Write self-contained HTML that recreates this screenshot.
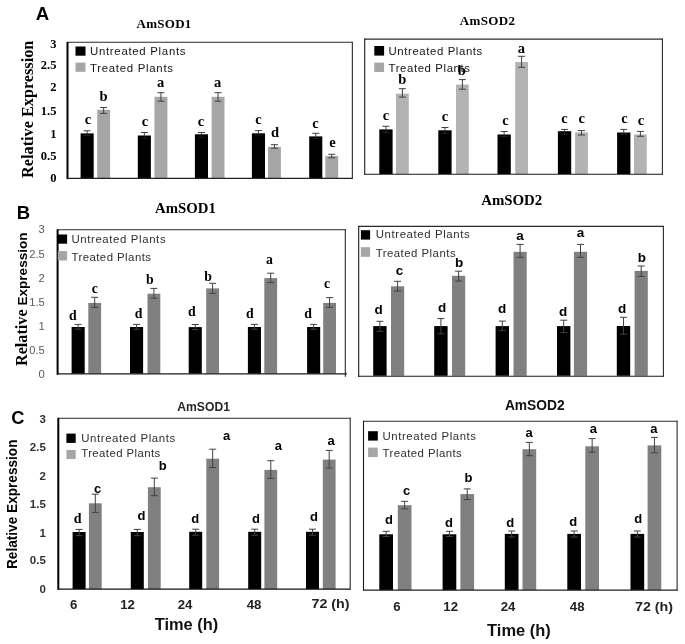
<!DOCTYPE html>
<html><head><meta charset="utf-8"><title>AmSOD expression</title>
<style>html,body{margin:0;padding:0;background:#fff;}svg{display:block;filter:grayscale(1) blur(0.3px);}</style>
</head><body>
<svg width="685" height="644" viewBox="0 0 685 644">
<rect x="0" y="0" width="685" height="644" fill="#fff"/>
<rect x="80.60" y="133.40" width="13.10" height="45.10" fill="#000"/>
<rect x="137.80" y="135.50" width="13.10" height="43.00" fill="#000"/>
<rect x="194.90" y="134.30" width="13.10" height="44.20" fill="#000"/>
<rect x="251.90" y="133.30" width="13.10" height="45.20" fill="#000"/>
<rect x="309.20" y="136.40" width="13.10" height="42.10" fill="#000"/>
<rect x="97.20" y="109.80" width="12.90" height="68.70" fill="#a6a6a6"/>
<rect x="154.50" y="96.80" width="12.90" height="81.70" fill="#a6a6a6"/>
<rect x="211.60" y="96.80" width="12.90" height="81.70" fill="#a6a6a6"/>
<rect x="268.00" y="146.90" width="12.90" height="31.60" fill="#a6a6a6"/>
<rect x="325.30" y="156.00" width="12.90" height="22.50" fill="#a6a6a6"/>
<line x1="67.00" y1="42.30" x2="352.40" y2="42.30" stroke="#2a2a2a" stroke-width="1.1"/>
<line x1="352.35" y1="41.80" x2="352.35" y2="178.80" stroke="#2a2a2a" stroke-width="1.1"/>
<line x1="67.50" y1="42.00" x2="67.50" y2="179.20" stroke="#000" stroke-width="2"/>
<line x1="67.00" y1="178.40" x2="352.80" y2="178.40" stroke="#222" stroke-width="1.4"/>
<line x1="87.15" y1="130.80" x2="87.15" y2="133.40" stroke="#404040" stroke-width="1.0"/>
<line x1="87.15" y1="133.40" x2="87.15" y2="135.50" stroke="#1c1c1c" stroke-width="1.0"/>
<line x1="83.65" y1="130.80" x2="90.65" y2="130.80" stroke="#404040" stroke-width="1.0"/>
<line x1="83.65" y1="135.50" x2="90.65" y2="135.50" stroke="#1c1c1c" stroke-width="1.0"/>
<line x1="144.35" y1="132.50" x2="144.35" y2="135.50" stroke="#404040" stroke-width="1.0"/>
<line x1="144.35" y1="135.50" x2="144.35" y2="138.40" stroke="#1c1c1c" stroke-width="1.0"/>
<line x1="140.85" y1="132.50" x2="147.85" y2="132.50" stroke="#404040" stroke-width="1.0"/>
<line x1="140.85" y1="138.40" x2="147.85" y2="138.40" stroke="#1c1c1c" stroke-width="1.0"/>
<line x1="201.45" y1="132.50" x2="201.45" y2="134.30" stroke="#404040" stroke-width="1.0"/>
<line x1="201.45" y1="134.30" x2="201.45" y2="137.40" stroke="#1c1c1c" stroke-width="1.0"/>
<line x1="197.95" y1="132.50" x2="204.95" y2="132.50" stroke="#404040" stroke-width="1.0"/>
<line x1="197.95" y1="137.40" x2="204.95" y2="137.40" stroke="#1c1c1c" stroke-width="1.0"/>
<line x1="258.45" y1="130.60" x2="258.45" y2="133.30" stroke="#404040" stroke-width="1.0"/>
<line x1="258.45" y1="133.30" x2="258.45" y2="135.00" stroke="#1c1c1c" stroke-width="1.0"/>
<line x1="254.95" y1="130.60" x2="261.95" y2="130.60" stroke="#404040" stroke-width="1.0"/>
<line x1="254.95" y1="135.00" x2="261.95" y2="135.00" stroke="#1c1c1c" stroke-width="1.0"/>
<line x1="315.75" y1="133.30" x2="315.75" y2="136.40" stroke="#404040" stroke-width="1.0"/>
<line x1="315.75" y1="136.40" x2="315.75" y2="138.50" stroke="#1c1c1c" stroke-width="1.0"/>
<line x1="312.25" y1="133.30" x2="319.25" y2="133.30" stroke="#404040" stroke-width="1.0"/>
<line x1="312.25" y1="138.50" x2="319.25" y2="138.50" stroke="#1c1c1c" stroke-width="1.0"/>
<line x1="103.65" y1="107.50" x2="103.65" y2="113.40" stroke="#404040" stroke-width="1.0"/>
<line x1="100.15" y1="107.50" x2="107.15" y2="107.50" stroke="#404040" stroke-width="1.0"/>
<line x1="100.15" y1="113.40" x2="107.15" y2="113.40" stroke="#404040" stroke-width="1.0"/>
<line x1="160.95" y1="92.70" x2="160.95" y2="101.20" stroke="#404040" stroke-width="1.0"/>
<line x1="157.45" y1="92.70" x2="164.45" y2="92.70" stroke="#404040" stroke-width="1.0"/>
<line x1="157.45" y1="101.20" x2="164.45" y2="101.20" stroke="#404040" stroke-width="1.0"/>
<line x1="218.05" y1="92.70" x2="218.05" y2="101.20" stroke="#404040" stroke-width="1.0"/>
<line x1="214.55" y1="92.70" x2="221.55" y2="92.70" stroke="#404040" stroke-width="1.0"/>
<line x1="214.55" y1="101.20" x2="221.55" y2="101.20" stroke="#404040" stroke-width="1.0"/>
<line x1="274.45" y1="144.70" x2="274.45" y2="148.20" stroke="#404040" stroke-width="1.0"/>
<line x1="270.95" y1="144.70" x2="277.95" y2="144.70" stroke="#404040" stroke-width="1.0"/>
<line x1="270.95" y1="148.20" x2="277.95" y2="148.20" stroke="#404040" stroke-width="1.0"/>
<line x1="331.75" y1="154.30" x2="331.75" y2="157.80" stroke="#404040" stroke-width="1.0"/>
<line x1="328.25" y1="154.30" x2="335.25" y2="154.30" stroke="#404040" stroke-width="1.0"/>
<line x1="328.25" y1="157.80" x2="335.25" y2="157.80" stroke="#404040" stroke-width="1.0"/>
<text x="87.90" y="123.80" font-family="Liberation Serif" font-size="14.5" font-weight="bold" fill="#000" text-anchor="middle" >c</text>
<text x="103.50" y="101.30" font-family="Liberation Serif" font-size="14.5" font-weight="bold" fill="#000" text-anchor="middle" >b</text>
<text x="144.90" y="126.00" font-family="Liberation Serif" font-size="14.5" font-weight="bold" fill="#000" text-anchor="middle" >c</text>
<text x="160.50" y="87.30" font-family="Liberation Serif" font-size="14.5" font-weight="bold" fill="#000" text-anchor="middle" >a</text>
<text x="201.00" y="126.00" font-family="Liberation Serif" font-size="14.5" font-weight="bold" fill="#000" text-anchor="middle" >c</text>
<text x="217.60" y="87.30" font-family="Liberation Serif" font-size="14.5" font-weight="bold" fill="#000" text-anchor="middle" >a</text>
<text x="258.40" y="123.60" font-family="Liberation Serif" font-size="14.5" font-weight="bold" fill="#000" text-anchor="middle" >c</text>
<text x="275.00" y="137.30" font-family="Liberation Serif" font-size="14.5" font-weight="bold" fill="#000" text-anchor="middle" >d</text>
<text x="315.50" y="127.70" font-family="Liberation Serif" font-size="14.5" font-weight="bold" fill="#000" text-anchor="middle" >c</text>
<text x="332.50" y="146.90" font-family="Liberation Serif" font-size="14.5" font-weight="bold" fill="#000" text-anchor="middle" >e</text>
<text x="136.50" y="28.40" font-family="Liberation Serif" font-size="13.0" font-weight="bold" fill="#000" text-anchor="start" textLength="54.80" lengthAdjust="spacing" >AmSOD1</text>
<text x="56.40" y="48.00" font-family="Liberation Serif" font-size="12.5" font-weight="bold" fill="#000" text-anchor="end" >3</text>
<text x="56.40" y="69.00" font-family="Liberation Serif" font-size="12.5" font-weight="bold" fill="#000" text-anchor="end" >2.5</text>
<text x="56.40" y="91.20" font-family="Liberation Serif" font-size="12.5" font-weight="bold" fill="#000" text-anchor="end" >2</text>
<text x="56.40" y="115.10" font-family="Liberation Serif" font-size="12.5" font-weight="bold" fill="#000" text-anchor="end" >1.5</text>
<text x="56.40" y="137.50" font-family="Liberation Serif" font-size="12.5" font-weight="bold" fill="#000" text-anchor="end" >1</text>
<text x="56.40" y="160.20" font-family="Liberation Serif" font-size="12.5" font-weight="bold" fill="#000" text-anchor="end" >0.5</text>
<text x="56.40" y="181.80" font-family="Liberation Serif" font-size="12.5" font-weight="bold" fill="#000" text-anchor="end" >0</text>
<text transform="translate(32.70,177.90) rotate(-90)" x="0" y="0" font-family="Liberation Serif" font-size="16.2" font-weight="bold" fill="#000" text-anchor="start" textLength="137.20" lengthAdjust="spacingAndGlyphs" >Relative Expression</text>
<rect x="75.50" y="46.50" width="10.00" height="9.20" fill="#000"/>
<rect x="75.50" y="62.60" width="10.00" height="9.20" fill="#a6a6a6"/>
<text x="90.00" y="54.70" font-family="Liberation Sans" font-size="11.4" font-weight="normal" fill="#141414" text-anchor="start" textLength="95.50" lengthAdjust="spacing" >Untreated Plants</text>
<text x="90.00" y="71.50" font-family="Liberation Sans" font-size="11.4" font-weight="normal" fill="#141414" text-anchor="start" textLength="83.00" lengthAdjust="spacing" >Treated Plants</text>
<text x="35.80" y="20.00" font-family="Liberation Sans" font-size="18.6" font-weight="bold" fill="#000" text-anchor="start" >A</text>
<rect x="379.30" y="129.40" width="13.30" height="44.60" fill="#000"/>
<rect x="438.30" y="130.30" width="13.30" height="43.70" fill="#000"/>
<rect x="497.50" y="134.50" width="13.30" height="39.50" fill="#000"/>
<rect x="557.90" y="131.20" width="13.30" height="42.80" fill="#000"/>
<rect x="617.10" y="132.50" width="13.30" height="41.50" fill="#000"/>
<rect x="396.00" y="93.70" width="12.80" height="80.30" fill="#b3b3b3"/>
<rect x="456.00" y="84.60" width="12.80" height="89.40" fill="#b3b3b3"/>
<rect x="515.20" y="62.00" width="12.80" height="112.00" fill="#b3b3b3"/>
<rect x="575.10" y="132.40" width="12.80" height="41.60" fill="#b3b3b3"/>
<rect x="634.00" y="134.50" width="12.80" height="39.50" fill="#b3b3b3"/>
<line x1="364.20" y1="39.10" x2="662.90" y2="39.10" stroke="#2a2a2a" stroke-width="1.1"/>
<line x1="662.40" y1="38.60" x2="662.40" y2="174.70" stroke="#2a2a2a" stroke-width="1.1"/>
<line x1="364.70" y1="38.60" x2="364.70" y2="174.70" stroke="#1a1a1a" stroke-width="1.1"/>
<line x1="364.20" y1="174.20" x2="662.90" y2="174.20" stroke="#1a1a1a" stroke-width="1.1"/>
<line x1="385.95" y1="126.30" x2="385.95" y2="129.40" stroke="#404040" stroke-width="1.0"/>
<line x1="385.95" y1="129.40" x2="385.95" y2="132.40" stroke="#262626" stroke-width="1.0"/>
<line x1="382.45" y1="126.30" x2="389.45" y2="126.30" stroke="#404040" stroke-width="1.0"/>
<line x1="382.45" y1="132.40" x2="389.45" y2="132.40" stroke="#262626" stroke-width="1.0"/>
<line x1="444.95" y1="127.50" x2="444.95" y2="130.30" stroke="#404040" stroke-width="1.0"/>
<line x1="444.95" y1="130.30" x2="444.95" y2="133.30" stroke="#262626" stroke-width="1.0"/>
<line x1="441.45" y1="127.50" x2="448.45" y2="127.50" stroke="#404040" stroke-width="1.0"/>
<line x1="441.45" y1="133.30" x2="448.45" y2="133.30" stroke="#262626" stroke-width="1.0"/>
<line x1="504.15" y1="131.50" x2="504.15" y2="134.50" stroke="#404040" stroke-width="1.0"/>
<line x1="504.15" y1="134.50" x2="504.15" y2="136.40" stroke="#262626" stroke-width="1.0"/>
<line x1="500.65" y1="131.50" x2="507.65" y2="131.50" stroke="#404040" stroke-width="1.0"/>
<line x1="500.65" y1="136.40" x2="507.65" y2="136.40" stroke="#262626" stroke-width="1.0"/>
<line x1="564.55" y1="129.40" x2="564.55" y2="131.20" stroke="#404040" stroke-width="1.0"/>
<line x1="564.55" y1="131.20" x2="564.55" y2="134.20" stroke="#262626" stroke-width="1.0"/>
<line x1="561.05" y1="129.40" x2="568.05" y2="129.40" stroke="#404040" stroke-width="1.0"/>
<line x1="561.05" y1="134.20" x2="568.05" y2="134.20" stroke="#262626" stroke-width="1.0"/>
<line x1="623.75" y1="129.40" x2="623.75" y2="132.50" stroke="#404040" stroke-width="1.0"/>
<line x1="623.75" y1="132.50" x2="623.75" y2="134.00" stroke="#262626" stroke-width="1.0"/>
<line x1="620.25" y1="129.40" x2="627.25" y2="129.40" stroke="#404040" stroke-width="1.0"/>
<line x1="620.25" y1="134.00" x2="627.25" y2="134.00" stroke="#262626" stroke-width="1.0"/>
<line x1="402.40" y1="88.70" x2="402.40" y2="97.10" stroke="#404040" stroke-width="1.0"/>
<line x1="398.90" y1="88.70" x2="405.90" y2="88.70" stroke="#404040" stroke-width="1.0"/>
<line x1="398.90" y1="97.10" x2="405.90" y2="97.10" stroke="#404040" stroke-width="1.0"/>
<line x1="462.40" y1="79.60" x2="462.40" y2="89.20" stroke="#404040" stroke-width="1.0"/>
<line x1="458.90" y1="79.60" x2="465.90" y2="79.60" stroke="#404040" stroke-width="1.0"/>
<line x1="458.90" y1="89.20" x2="465.90" y2="89.20" stroke="#404040" stroke-width="1.0"/>
<line x1="521.60" y1="56.30" x2="521.60" y2="67.30" stroke="#404040" stroke-width="1.0"/>
<line x1="518.10" y1="56.30" x2="525.10" y2="56.30" stroke="#404040" stroke-width="1.0"/>
<line x1="518.10" y1="67.30" x2="525.10" y2="67.30" stroke="#404040" stroke-width="1.0"/>
<line x1="581.50" y1="130.60" x2="581.50" y2="135.00" stroke="#404040" stroke-width="1.0"/>
<line x1="578.00" y1="130.60" x2="585.00" y2="130.60" stroke="#404040" stroke-width="1.0"/>
<line x1="578.00" y1="135.00" x2="585.00" y2="135.00" stroke="#404040" stroke-width="1.0"/>
<line x1="640.40" y1="131.40" x2="640.40" y2="136.30" stroke="#404040" stroke-width="1.0"/>
<line x1="636.90" y1="131.40" x2="643.90" y2="131.40" stroke="#404040" stroke-width="1.0"/>
<line x1="636.90" y1="136.30" x2="643.90" y2="136.30" stroke="#404040" stroke-width="1.0"/>
<text x="386.00" y="120.10" font-family="Liberation Serif" font-size="14.5" font-weight="bold" fill="#000" text-anchor="middle" >c</text>
<text x="402.20" y="84.30" font-family="Liberation Serif" font-size="14.5" font-weight="bold" fill="#000" text-anchor="middle" >b</text>
<text x="445.00" y="121.40" font-family="Liberation Serif" font-size="14.5" font-weight="bold" fill="#000" text-anchor="middle" >c</text>
<text x="461.90" y="74.70" font-family="Liberation Serif" font-size="14.5" font-weight="bold" fill="#000" text-anchor="middle" >b</text>
<text x="505.40" y="124.90" font-family="Liberation Serif" font-size="14.5" font-weight="bold" fill="#000" text-anchor="middle" >c</text>
<text x="521.40" y="52.80" font-family="Liberation Serif" font-size="14.5" font-weight="bold" fill="#000" text-anchor="middle" >a</text>
<text x="564.40" y="122.80" font-family="Liberation Serif" font-size="14.5" font-weight="bold" fill="#000" text-anchor="middle" >c</text>
<text x="581.60" y="123.10" font-family="Liberation Serif" font-size="14.5" font-weight="bold" fill="#000" text-anchor="middle" >c</text>
<text x="624.50" y="123.00" font-family="Liberation Serif" font-size="14.5" font-weight="bold" fill="#000" text-anchor="middle" >c</text>
<text x="640.90" y="125.00" font-family="Liberation Serif" font-size="14.5" font-weight="bold" fill="#000" text-anchor="middle" >c</text>
<text x="459.80" y="25.00" font-family="Liberation Serif" font-size="13.0" font-weight="bold" fill="#000" text-anchor="start" textLength="55.20" lengthAdjust="spacing" >AmSOD2</text>
<rect x="374.30" y="46.00" width="9.80" height="9.60" fill="#000"/>
<rect x="374.30" y="62.60" width="9.80" height="9.40" fill="#a6a6a6"/>
<text x="388.50" y="54.80" font-family="Liberation Sans" font-size="11.4" font-weight="normal" fill="#141414" text-anchor="start" textLength="93.80" lengthAdjust="spacing" >Untreated Plants</text>
<text x="388.50" y="71.90" font-family="Liberation Sans" font-size="11.4" font-weight="normal" fill="#141414" text-anchor="start" textLength="81.50" lengthAdjust="spacing" >Treated Plants</text>
<rect x="71.60" y="327.00" width="13.10" height="46.60" fill="#000"/>
<rect x="130.00" y="327.00" width="13.10" height="46.60" fill="#000"/>
<rect x="188.70" y="327.10" width="13.10" height="46.50" fill="#000"/>
<rect x="247.90" y="327.00" width="13.10" height="46.60" fill="#000"/>
<rect x="307.10" y="327.00" width="13.10" height="46.60" fill="#000"/>
<rect x="88.30" y="302.90" width="12.80" height="70.70" fill="#808080"/>
<rect x="147.50" y="293.70" width="12.80" height="79.90" fill="#808080"/>
<rect x="206.20" y="288.40" width="12.80" height="85.20" fill="#808080"/>
<rect x="264.30" y="278.10" width="12.80" height="95.50" fill="#808080"/>
<rect x="323.20" y="302.90" width="12.80" height="70.70" fill="#808080"/>
<line x1="57.50" y1="229.80" x2="345.80" y2="229.80" stroke="#2a2a2a" stroke-width="1.1"/>
<line x1="345.30" y1="229.30" x2="345.30" y2="376.70" stroke="#2a2a2a" stroke-width="1.1"/>
<line x1="57.60" y1="229.30" x2="57.60" y2="374.80" stroke="#000" stroke-width="2"/>
<line x1="57.00" y1="373.80" x2="347.00" y2="373.80" stroke="#1a1a1a" stroke-width="1.3"/>
<line x1="78.15" y1="324.40" x2="78.15" y2="329.20" stroke="#404040" stroke-width="1.0"/>
<line x1="74.65" y1="324.40" x2="81.65" y2="324.40" stroke="#404040" stroke-width="1.0"/>
<line x1="74.65" y1="329.20" x2="81.65" y2="329.20" stroke="#404040" stroke-width="1.0"/>
<line x1="136.55" y1="324.40" x2="136.55" y2="329.20" stroke="#404040" stroke-width="1.0"/>
<line x1="133.05" y1="324.40" x2="140.05" y2="324.40" stroke="#404040" stroke-width="1.0"/>
<line x1="133.05" y1="329.20" x2="140.05" y2="329.20" stroke="#404040" stroke-width="1.0"/>
<line x1="195.25" y1="324.50" x2="195.25" y2="329.60" stroke="#404040" stroke-width="1.0"/>
<line x1="191.75" y1="324.50" x2="198.75" y2="324.50" stroke="#404040" stroke-width="1.0"/>
<line x1="191.75" y1="329.60" x2="198.75" y2="329.60" stroke="#404040" stroke-width="1.0"/>
<line x1="254.45" y1="324.40" x2="254.45" y2="329.20" stroke="#404040" stroke-width="1.0"/>
<line x1="250.95" y1="324.40" x2="257.95" y2="324.40" stroke="#404040" stroke-width="1.0"/>
<line x1="250.95" y1="329.20" x2="257.95" y2="329.20" stroke="#404040" stroke-width="1.0"/>
<line x1="313.65" y1="324.40" x2="313.65" y2="329.20" stroke="#404040" stroke-width="1.0"/>
<line x1="310.15" y1="324.40" x2="317.15" y2="324.40" stroke="#404040" stroke-width="1.0"/>
<line x1="310.15" y1="329.20" x2="317.15" y2="329.20" stroke="#404040" stroke-width="1.0"/>
<line x1="94.70" y1="297.30" x2="94.70" y2="307.30" stroke="#404040" stroke-width="1.0"/>
<line x1="91.20" y1="297.30" x2="98.20" y2="297.30" stroke="#404040" stroke-width="1.0"/>
<line x1="91.20" y1="307.30" x2="98.20" y2="307.30" stroke="#404040" stroke-width="1.0"/>
<line x1="153.90" y1="288.40" x2="153.90" y2="298.20" stroke="#404040" stroke-width="1.0"/>
<line x1="150.40" y1="288.40" x2="157.40" y2="288.40" stroke="#404040" stroke-width="1.0"/>
<line x1="150.40" y1="298.20" x2="157.40" y2="298.20" stroke="#404040" stroke-width="1.0"/>
<line x1="212.60" y1="283.30" x2="212.60" y2="293.30" stroke="#404040" stroke-width="1.0"/>
<line x1="209.10" y1="283.30" x2="216.10" y2="283.30" stroke="#404040" stroke-width="1.0"/>
<line x1="209.10" y1="293.30" x2="216.10" y2="293.30" stroke="#404040" stroke-width="1.0"/>
<line x1="270.70" y1="273.20" x2="270.70" y2="282.60" stroke="#404040" stroke-width="1.0"/>
<line x1="267.20" y1="273.20" x2="274.20" y2="273.20" stroke="#404040" stroke-width="1.0"/>
<line x1="267.20" y1="282.60" x2="274.20" y2="282.60" stroke="#404040" stroke-width="1.0"/>
<line x1="329.60" y1="297.60" x2="329.60" y2="307.30" stroke="#404040" stroke-width="1.0"/>
<line x1="326.10" y1="297.60" x2="333.10" y2="297.60" stroke="#404040" stroke-width="1.0"/>
<line x1="326.10" y1="307.30" x2="333.10" y2="307.30" stroke="#404040" stroke-width="1.0"/>
<text x="72.80" y="320.40" font-family="Liberation Serif" font-size="13.8" font-weight="bold" fill="#000" text-anchor="middle" >d</text>
<text x="94.90" y="293.00" font-family="Liberation Serif" font-size="13.8" font-weight="bold" fill="#000" text-anchor="middle" >c</text>
<text x="138.60" y="317.80" font-family="Liberation Serif" font-size="13.8" font-weight="bold" fill="#000" text-anchor="middle" >d</text>
<text x="149.90" y="283.70" font-family="Liberation Serif" font-size="13.8" font-weight="bold" fill="#000" text-anchor="middle" >b</text>
<text x="191.80" y="315.70" font-family="Liberation Serif" font-size="13.8" font-weight="bold" fill="#000" text-anchor="middle" >d</text>
<text x="208.10" y="281.00" font-family="Liberation Serif" font-size="13.8" font-weight="bold" fill="#000" text-anchor="middle" >b</text>
<text x="249.90" y="318.10" font-family="Liberation Serif" font-size="13.8" font-weight="bold" fill="#000" text-anchor="middle" >d</text>
<text x="269.50" y="263.90" font-family="Liberation Serif" font-size="13.8" font-weight="bold" fill="#000" text-anchor="middle" >a</text>
<text x="308.00" y="318.10" font-family="Liberation Serif" font-size="13.8" font-weight="bold" fill="#000" text-anchor="middle" >d</text>
<text x="327.00" y="287.80" font-family="Liberation Serif" font-size="13.8" font-weight="bold" fill="#000" text-anchor="middle" >c</text>
<text x="155.10" y="212.80" font-family="Liberation Serif" font-size="15" font-weight="bold" fill="#000" text-anchor="start" textLength="60.80" lengthAdjust="spacingAndGlyphs" >AmSOD1</text>
<text x="44.80" y="232.90" font-family="Liberation Sans" font-size="11.2" font-weight="normal" fill="#595959" text-anchor="end" >3</text>
<text x="44.80" y="257.60" font-family="Liberation Sans" font-size="11.2" font-weight="normal" fill="#595959" text-anchor="end" >2.5</text>
<text x="44.80" y="282.10" font-family="Liberation Sans" font-size="11.2" font-weight="normal" fill="#595959" text-anchor="end" >2</text>
<text x="44.80" y="305.70" font-family="Liberation Sans" font-size="11.2" font-weight="normal" fill="#595959" text-anchor="end" >1.5</text>
<text x="44.80" y="329.80" font-family="Liberation Sans" font-size="11.2" font-weight="normal" fill="#595959" text-anchor="end" >1</text>
<text x="44.80" y="353.60" font-family="Liberation Sans" font-size="11.2" font-weight="normal" fill="#595959" text-anchor="end" >0.5</text>
<text x="44.80" y="377.70" font-family="Liberation Sans" font-size="11.2" font-weight="normal" fill="#595959" text-anchor="end" >0</text>
<text transform="translate(27.20,366.00) rotate(-90)" x="0" y="0" font-family="Liberation Serif" font-size="16.3" font-weight="bold" fill="#000" text-anchor="start" textLength="56.60" lengthAdjust="spacingAndGlyphs" >Relative</text>
<text transform="translate(26.70,305.60) rotate(-90)" x="0" y="0" font-family="Liberation Sans" font-size="13.4" font-weight="bold" fill="#000" text-anchor="start" textLength="73.20" lengthAdjust="spacingAndGlyphs" >Expression</text>
<rect x="57.80" y="234.50" width="9.30" height="9.20" fill="#000"/>
<rect x="57.80" y="251.10" width="9.30" height="9.40" fill="#a6a6a6"/>
<text x="71.40" y="242.50" font-family="Liberation Sans" font-size="11.4" font-weight="normal" fill="#2e2e2e" text-anchor="start" textLength="94.20" lengthAdjust="spacing" >Untreated Plants</text>
<text x="71.40" y="260.90" font-family="Liberation Sans" font-size="11.4" font-weight="normal" fill="#2e2e2e" text-anchor="start" textLength="79.60" lengthAdjust="spacing" >Treated Plants</text>
<text x="16.70" y="218.90" font-family="Liberation Sans" font-size="18.5" font-weight="bold" fill="#000" text-anchor="start" >B</text>
<rect x="373.20" y="326.10" width="13.40" height="49.70" fill="#000"/>
<rect x="434.20" y="326.10" width="13.40" height="49.70" fill="#000"/>
<rect x="495.60" y="326.10" width="13.40" height="49.70" fill="#000"/>
<rect x="557.00" y="326.10" width="13.40" height="49.70" fill="#000"/>
<rect x="616.80" y="326.00" width="13.40" height="49.80" fill="#000"/>
<rect x="391.00" y="286.30" width="13.20" height="89.50" fill="#808080"/>
<rect x="452.00" y="275.80" width="13.20" height="100.00" fill="#808080"/>
<rect x="513.50" y="251.80" width="13.20" height="124.00" fill="#808080"/>
<rect x="573.90" y="251.80" width="13.20" height="124.00" fill="#808080"/>
<rect x="634.60" y="270.90" width="13.20" height="104.90" fill="#808080"/>
<line x1="358.20" y1="226.40" x2="663.90" y2="226.40" stroke="#2a2a2a" stroke-width="1.1"/>
<line x1="663.40" y1="226.00" x2="663.40" y2="376.70" stroke="#2a2a2a" stroke-width="1.1"/>
<line x1="358.70" y1="226.00" x2="358.70" y2="376.70" stroke="#1a1a1a" stroke-width="1.1"/>
<line x1="358.00" y1="376.20" x2="663.80" y2="376.20" stroke="#1a1a1a" stroke-width="1.1"/>
<line x1="379.90" y1="321.30" x2="379.90" y2="331.40" stroke="#404040" stroke-width="1.0"/>
<line x1="376.40" y1="321.30" x2="383.40" y2="321.30" stroke="#404040" stroke-width="1.0"/>
<line x1="376.40" y1="331.40" x2="383.40" y2="331.40" stroke="#404040" stroke-width="1.0"/>
<line x1="440.90" y1="318.60" x2="440.90" y2="333.80" stroke="#404040" stroke-width="1.0"/>
<line x1="437.40" y1="318.60" x2="444.40" y2="318.60" stroke="#404040" stroke-width="1.0"/>
<line x1="437.40" y1="333.80" x2="444.40" y2="333.80" stroke="#404040" stroke-width="1.0"/>
<line x1="502.30" y1="321.10" x2="502.30" y2="330.60" stroke="#404040" stroke-width="1.0"/>
<line x1="498.80" y1="321.10" x2="505.80" y2="321.10" stroke="#404040" stroke-width="1.0"/>
<line x1="498.80" y1="330.60" x2="505.80" y2="330.60" stroke="#404040" stroke-width="1.0"/>
<line x1="563.70" y1="320.20" x2="563.70" y2="332.60" stroke="#404040" stroke-width="1.0"/>
<line x1="560.20" y1="320.20" x2="567.20" y2="320.20" stroke="#404040" stroke-width="1.0"/>
<line x1="560.20" y1="332.60" x2="567.20" y2="332.60" stroke="#404040" stroke-width="1.0"/>
<line x1="623.50" y1="317.30" x2="623.50" y2="334.20" stroke="#404040" stroke-width="1.0"/>
<line x1="620.00" y1="317.30" x2="627.00" y2="317.30" stroke="#404040" stroke-width="1.0"/>
<line x1="620.00" y1="334.20" x2="627.00" y2="334.20" stroke="#404040" stroke-width="1.0"/>
<line x1="397.60" y1="281.30" x2="397.60" y2="291.00" stroke="#404040" stroke-width="1.0"/>
<line x1="394.10" y1="281.30" x2="401.10" y2="281.30" stroke="#404040" stroke-width="1.0"/>
<line x1="394.10" y1="291.00" x2="401.10" y2="291.00" stroke="#404040" stroke-width="1.0"/>
<line x1="458.60" y1="271.20" x2="458.60" y2="281.00" stroke="#404040" stroke-width="1.0"/>
<line x1="455.10" y1="271.20" x2="462.10" y2="271.20" stroke="#404040" stroke-width="1.0"/>
<line x1="455.10" y1="281.00" x2="462.10" y2="281.00" stroke="#404040" stroke-width="1.0"/>
<line x1="520.10" y1="244.40" x2="520.10" y2="257.30" stroke="#404040" stroke-width="1.0"/>
<line x1="516.60" y1="244.40" x2="523.60" y2="244.40" stroke="#404040" stroke-width="1.0"/>
<line x1="516.60" y1="257.30" x2="523.60" y2="257.30" stroke="#404040" stroke-width="1.0"/>
<line x1="580.50" y1="244.40" x2="580.50" y2="257.30" stroke="#404040" stroke-width="1.0"/>
<line x1="577.00" y1="244.40" x2="584.00" y2="244.40" stroke="#404040" stroke-width="1.0"/>
<line x1="577.00" y1="257.30" x2="584.00" y2="257.30" stroke="#404040" stroke-width="1.0"/>
<line x1="641.20" y1="266.00" x2="641.20" y2="276.40" stroke="#404040" stroke-width="1.0"/>
<line x1="637.70" y1="266.00" x2="644.70" y2="266.00" stroke="#404040" stroke-width="1.0"/>
<line x1="637.70" y1="276.40" x2="644.70" y2="276.40" stroke="#404040" stroke-width="1.0"/>
<text x="378.50" y="313.60" font-family="Liberation Sans" font-size="13.5" font-weight="bold" fill="#000" text-anchor="middle" >d</text>
<text x="399.50" y="275.20" font-family="Liberation Sans" font-size="13.5" font-weight="bold" fill="#000" text-anchor="middle" >c</text>
<text x="442.10" y="312.20" font-family="Liberation Sans" font-size="13.5" font-weight="bold" fill="#000" text-anchor="middle" >d</text>
<text x="459.20" y="267.10" font-family="Liberation Sans" font-size="13.5" font-weight="bold" fill="#000" text-anchor="middle" >b</text>
<text x="502.10" y="313.20" font-family="Liberation Sans" font-size="13.5" font-weight="bold" fill="#000" text-anchor="middle" >d</text>
<text x="520.00" y="240.40" font-family="Liberation Sans" font-size="13.5" font-weight="bold" fill="#000" text-anchor="middle" >a</text>
<text x="563.00" y="316.20" font-family="Liberation Sans" font-size="13.5" font-weight="bold" fill="#000" text-anchor="middle" >d</text>
<text x="580.50" y="237.40" font-family="Liberation Sans" font-size="13.5" font-weight="bold" fill="#000" text-anchor="middle" >a</text>
<text x="622.20" y="313.10" font-family="Liberation Sans" font-size="13.5" font-weight="bold" fill="#000" text-anchor="middle" >d</text>
<text x="641.80" y="261.70" font-family="Liberation Sans" font-size="13.5" font-weight="bold" fill="#000" text-anchor="middle" >b</text>
<text x="481.20" y="204.70" font-family="Liberation Serif" font-size="15" font-weight="bold" fill="#000" text-anchor="start" textLength="61.10" lengthAdjust="spacingAndGlyphs" >AmSOD2</text>
<rect x="360.90" y="230.20" width="9.20" height="9.40" fill="#000"/>
<rect x="360.90" y="247.20" width="9.20" height="9.60" fill="#a6a6a6"/>
<text x="375.70" y="238.40" font-family="Liberation Sans" font-size="11.4" font-weight="normal" fill="#2e2e2e" text-anchor="start" textLength="94.00" lengthAdjust="spacing" >Untreated Plants</text>
<text x="375.70" y="256.80" font-family="Liberation Sans" font-size="11.4" font-weight="normal" fill="#2e2e2e" text-anchor="start" textLength="79.90" lengthAdjust="spacing" >Treated Plants</text>
<rect x="72.60" y="532.00" width="13.00" height="57.10" fill="#000"/>
<rect x="130.80" y="532.00" width="13.00" height="57.10" fill="#000"/>
<rect x="189.20" y="531.80" width="13.00" height="57.30" fill="#000"/>
<rect x="248.20" y="531.80" width="13.00" height="57.30" fill="#000"/>
<rect x="306.00" y="531.80" width="13.00" height="57.30" fill="#000"/>
<rect x="88.90" y="503.30" width="12.80" height="85.80" fill="#808080"/>
<rect x="147.90" y="487.20" width="12.80" height="101.90" fill="#808080"/>
<rect x="206.30" y="458.70" width="12.80" height="130.40" fill="#808080"/>
<rect x="264.40" y="469.90" width="12.80" height="119.20" fill="#808080"/>
<rect x="322.80" y="459.60" width="12.80" height="129.50" fill="#808080"/>
<line x1="57.60" y1="418.20" x2="350.70" y2="418.20" stroke="#2a2a2a" stroke-width="1.1"/>
<line x1="350.20" y1="417.70" x2="350.20" y2="589.60" stroke="#2a2a2a" stroke-width="1.1"/>
<line x1="58.30" y1="418.00" x2="58.30" y2="589.60" stroke="#000" stroke-width="2"/>
<line x1="57.50" y1="589.20" x2="350.50" y2="589.20" stroke="#111" stroke-width="1.3"/>
<line x1="79.10" y1="529.40" x2="79.10" y2="535.70" stroke="#404040" stroke-width="1.0"/>
<line x1="75.60" y1="529.40" x2="82.60" y2="529.40" stroke="#404040" stroke-width="1.0"/>
<line x1="75.60" y1="535.70" x2="82.60" y2="535.70" stroke="#404040" stroke-width="1.0"/>
<line x1="137.30" y1="529.40" x2="137.30" y2="535.70" stroke="#404040" stroke-width="1.0"/>
<line x1="133.80" y1="529.40" x2="140.80" y2="529.40" stroke="#404040" stroke-width="1.0"/>
<line x1="133.80" y1="535.70" x2="140.80" y2="535.70" stroke="#404040" stroke-width="1.0"/>
<line x1="195.70" y1="529.20" x2="195.70" y2="535.20" stroke="#404040" stroke-width="1.0"/>
<line x1="192.20" y1="529.20" x2="199.20" y2="529.20" stroke="#404040" stroke-width="1.0"/>
<line x1="192.20" y1="535.20" x2="199.20" y2="535.20" stroke="#404040" stroke-width="1.0"/>
<line x1="254.70" y1="529.20" x2="254.70" y2="535.20" stroke="#404040" stroke-width="1.0"/>
<line x1="251.20" y1="529.20" x2="258.20" y2="529.20" stroke="#404040" stroke-width="1.0"/>
<line x1="251.20" y1="535.20" x2="258.20" y2="535.20" stroke="#404040" stroke-width="1.0"/>
<line x1="312.50" y1="529.20" x2="312.50" y2="535.20" stroke="#404040" stroke-width="1.0"/>
<line x1="309.00" y1="529.20" x2="316.00" y2="529.20" stroke="#404040" stroke-width="1.0"/>
<line x1="309.00" y1="535.20" x2="316.00" y2="535.20" stroke="#404040" stroke-width="1.0"/>
<line x1="95.30" y1="494.20" x2="95.30" y2="512.40" stroke="#404040" stroke-width="1.0"/>
<line x1="91.80" y1="494.20" x2="98.80" y2="494.20" stroke="#404040" stroke-width="1.0"/>
<line x1="91.80" y1="512.40" x2="98.80" y2="512.40" stroke="#404040" stroke-width="1.0"/>
<line x1="154.30" y1="478.10" x2="154.30" y2="495.70" stroke="#404040" stroke-width="1.0"/>
<line x1="150.80" y1="478.10" x2="157.80" y2="478.10" stroke="#404040" stroke-width="1.0"/>
<line x1="150.80" y1="495.70" x2="157.80" y2="495.70" stroke="#404040" stroke-width="1.0"/>
<line x1="212.70" y1="449.20" x2="212.70" y2="467.50" stroke="#404040" stroke-width="1.0"/>
<line x1="209.20" y1="449.20" x2="216.20" y2="449.20" stroke="#404040" stroke-width="1.0"/>
<line x1="209.20" y1="467.50" x2="216.20" y2="467.50" stroke="#404040" stroke-width="1.0"/>
<line x1="270.80" y1="460.70" x2="270.80" y2="478.40" stroke="#404040" stroke-width="1.0"/>
<line x1="267.30" y1="460.70" x2="274.30" y2="460.70" stroke="#404040" stroke-width="1.0"/>
<line x1="267.30" y1="478.40" x2="274.30" y2="478.40" stroke="#404040" stroke-width="1.0"/>
<line x1="329.20" y1="450.40" x2="329.20" y2="468.10" stroke="#404040" stroke-width="1.0"/>
<line x1="325.70" y1="450.40" x2="332.70" y2="450.40" stroke="#404040" stroke-width="1.0"/>
<line x1="325.70" y1="468.10" x2="332.70" y2="468.10" stroke="#404040" stroke-width="1.0"/>
<text x="77.60" y="522.70" font-family="Liberation Serif" font-size="14" font-weight="bold" fill="#000" text-anchor="middle" >d</text>
<text x="97.50" y="493.00" font-family="Liberation Sans" font-size="13" font-weight="bold" fill="#000" text-anchor="middle" >c</text>
<text x="141.50" y="520.30" font-family="Liberation Sans" font-size="13" font-weight="bold" fill="#000" text-anchor="middle" >d</text>
<text x="162.70" y="469.50" font-family="Liberation Sans" font-size="13" font-weight="bold" fill="#000" text-anchor="middle" >b</text>
<text x="195.30" y="523.00" font-family="Liberation Sans" font-size="13" font-weight="bold" fill="#000" text-anchor="middle" >d</text>
<text x="226.50" y="440.40" font-family="Liberation Sans" font-size="13" font-weight="bold" fill="#000" text-anchor="middle" >a</text>
<text x="256.00" y="522.50" font-family="Liberation Sans" font-size="13" font-weight="bold" fill="#000" text-anchor="middle" >d</text>
<text x="278.40" y="449.80" font-family="Liberation Sans" font-size="13" font-weight="bold" fill="#000" text-anchor="middle" >a</text>
<text x="314.00" y="521.20" font-family="Liberation Sans" font-size="13" font-weight="bold" fill="#000" text-anchor="middle" >d</text>
<text x="331.00" y="444.80" font-family="Liberation Sans" font-size="13" font-weight="bold" fill="#000" text-anchor="middle" >a</text>
<text x="177.30" y="411.40" font-family="Liberation Sans" font-size="12.6" font-weight="bold" fill="#262626" text-anchor="start" textLength="52.60" lengthAdjust="spacingAndGlyphs" >AmSOD1</text>
<text x="45.80" y="422.60" font-family="Liberation Sans" font-size="11.5" font-weight="bold" fill="#333" text-anchor="end" >3</text>
<text x="45.80" y="451.20" font-family="Liberation Sans" font-size="11.5" font-weight="bold" fill="#333" text-anchor="end" >2.5</text>
<text x="45.80" y="480.10" font-family="Liberation Sans" font-size="11.5" font-weight="bold" fill="#333" text-anchor="end" >2</text>
<text x="45.80" y="508.30" font-family="Liberation Sans" font-size="11.5" font-weight="bold" fill="#333" text-anchor="end" >1.5</text>
<text x="45.80" y="537.10" font-family="Liberation Sans" font-size="11.5" font-weight="bold" fill="#333" text-anchor="end" >1</text>
<text x="45.80" y="564.40" font-family="Liberation Sans" font-size="11.5" font-weight="bold" fill="#333" text-anchor="end" >0.5</text>
<text x="45.80" y="592.60" font-family="Liberation Sans" font-size="11.5" font-weight="bold" fill="#333" text-anchor="end" >0</text>
<text transform="translate(16.80,569.00) rotate(-90)" x="0" y="0" font-family="Liberation Sans" font-size="14" font-weight="bold" fill="#000" text-anchor="start" textLength="129.50" lengthAdjust="spacingAndGlyphs" >Relative Expression</text>
<rect x="66.40" y="433.60" width="9.30" height="9.30" fill="#000"/>
<rect x="66.40" y="449.90" width="9.30" height="9.10" fill="#a6a6a6"/>
<text x="81.20" y="441.90" font-family="Liberation Sans" font-size="11.4" font-weight="normal" fill="#2e2e2e" text-anchor="start" textLength="94.00" lengthAdjust="spacing" >Untreated Plants</text>
<text x="81.20" y="457.30" font-family="Liberation Sans" font-size="11.4" font-weight="normal" fill="#2e2e2e" text-anchor="start" textLength="79.00" lengthAdjust="spacing" >Treated Plants</text>
<text x="73.70" y="608.70" font-family="Liberation Sans" font-size="13.2" font-weight="bold" fill="#222" text-anchor="middle" >6</text>
<text x="127.50" y="608.70" font-family="Liberation Sans" font-size="13.2" font-weight="bold" fill="#222" text-anchor="middle" >12</text>
<text x="185.00" y="608.70" font-family="Liberation Sans" font-size="13.2" font-weight="bold" fill="#222" text-anchor="middle" >24</text>
<text x="254.10" y="608.70" font-family="Liberation Sans" font-size="13.2" font-weight="bold" fill="#222" text-anchor="middle" >48</text>
<text x="311.50" y="608.10" font-family="Liberation Sans" font-size="12.8" font-weight="bold" fill="#222" text-anchor="start" textLength="38.00" lengthAdjust="spacingAndGlyphs" >72 (h)</text>
<text x="154.80" y="630.20" font-family="Liberation Sans" font-size="16.3" font-weight="bold" fill="#111" text-anchor="start" textLength="63.40" lengthAdjust="spacingAndGlyphs" >Time (h)</text>
<text x="11.30" y="423.90" font-family="Liberation Sans" font-size="18.2" font-weight="bold" fill="#000" text-anchor="start" >C</text>
<rect x="379.30" y="534.30" width="13.70" height="55.90" fill="#000"/>
<rect x="442.60" y="534.30" width="13.70" height="55.90" fill="#000"/>
<rect x="504.80" y="533.90" width="13.70" height="56.30" fill="#000"/>
<rect x="567.30" y="533.90" width="13.70" height="56.30" fill="#000"/>
<rect x="630.50" y="533.90" width="13.70" height="56.30" fill="#000"/>
<rect x="397.80" y="505.20" width="13.70" height="85.00" fill="#808080"/>
<rect x="460.40" y="494.10" width="13.70" height="96.10" fill="#808080"/>
<rect x="522.50" y="449.20" width="13.70" height="141.00" fill="#808080"/>
<rect x="585.30" y="446.30" width="13.70" height="143.90" fill="#808080"/>
<rect x="647.60" y="445.40" width="13.70" height="144.80" fill="#808080"/>
<line x1="363.00" y1="421.30" x2="677.60" y2="421.30" stroke="#2a2a2a" stroke-width="1.1"/>
<line x1="677.10" y1="420.80" x2="677.10" y2="590.70" stroke="#2a2a2a" stroke-width="1.1"/>
<line x1="363.50" y1="420.80" x2="363.50" y2="590.70" stroke="#1a1a1a" stroke-width="1.1"/>
<line x1="363.00" y1="590.20" x2="677.50" y2="590.20" stroke="#222" stroke-width="1.2"/>
<line x1="386.15" y1="531.30" x2="386.15" y2="536.50" stroke="#404040" stroke-width="1.0"/>
<line x1="382.65" y1="531.30" x2="389.65" y2="531.30" stroke="#404040" stroke-width="1.0"/>
<line x1="382.65" y1="536.50" x2="389.65" y2="536.50" stroke="#404040" stroke-width="1.0"/>
<line x1="449.45" y1="531.30" x2="449.45" y2="536.50" stroke="#404040" stroke-width="1.0"/>
<line x1="445.95" y1="531.30" x2="452.95" y2="531.30" stroke="#404040" stroke-width="1.0"/>
<line x1="445.95" y1="536.50" x2="452.95" y2="536.50" stroke="#404040" stroke-width="1.0"/>
<line x1="511.65" y1="531.00" x2="511.65" y2="537.00" stroke="#404040" stroke-width="1.0"/>
<line x1="508.15" y1="531.00" x2="515.15" y2="531.00" stroke="#404040" stroke-width="1.0"/>
<line x1="508.15" y1="537.00" x2="515.15" y2="537.00" stroke="#404040" stroke-width="1.0"/>
<line x1="574.15" y1="531.00" x2="574.15" y2="537.00" stroke="#404040" stroke-width="1.0"/>
<line x1="570.65" y1="531.00" x2="577.65" y2="531.00" stroke="#404040" stroke-width="1.0"/>
<line x1="570.65" y1="537.00" x2="577.65" y2="537.00" stroke="#404040" stroke-width="1.0"/>
<line x1="637.35" y1="531.00" x2="637.35" y2="537.00" stroke="#404040" stroke-width="1.0"/>
<line x1="633.85" y1="531.00" x2="640.85" y2="531.00" stroke="#404040" stroke-width="1.0"/>
<line x1="633.85" y1="537.00" x2="640.85" y2="537.00" stroke="#404040" stroke-width="1.0"/>
<line x1="404.65" y1="501.30" x2="404.65" y2="508.90" stroke="#404040" stroke-width="1.0"/>
<line x1="401.15" y1="501.30" x2="408.15" y2="501.30" stroke="#404040" stroke-width="1.0"/>
<line x1="401.15" y1="508.90" x2="408.15" y2="508.90" stroke="#404040" stroke-width="1.0"/>
<line x1="467.25" y1="488.90" x2="467.25" y2="499.60" stroke="#404040" stroke-width="1.0"/>
<line x1="463.75" y1="488.90" x2="470.75" y2="488.90" stroke="#404040" stroke-width="1.0"/>
<line x1="463.75" y1="499.60" x2="470.75" y2="499.60" stroke="#404040" stroke-width="1.0"/>
<line x1="529.35" y1="442.40" x2="529.35" y2="455.70" stroke="#404040" stroke-width="1.0"/>
<line x1="525.85" y1="442.40" x2="532.85" y2="442.40" stroke="#404040" stroke-width="1.0"/>
<line x1="525.85" y1="455.70" x2="532.85" y2="455.70" stroke="#404040" stroke-width="1.0"/>
<line x1="592.15" y1="438.60" x2="592.15" y2="452.20" stroke="#404040" stroke-width="1.0"/>
<line x1="588.65" y1="438.60" x2="595.65" y2="438.60" stroke="#404040" stroke-width="1.0"/>
<line x1="588.65" y1="452.20" x2="595.65" y2="452.20" stroke="#404040" stroke-width="1.0"/>
<line x1="654.45" y1="437.40" x2="654.45" y2="452.80" stroke="#404040" stroke-width="1.0"/>
<line x1="650.95" y1="437.40" x2="657.95" y2="437.40" stroke="#404040" stroke-width="1.0"/>
<line x1="650.95" y1="452.80" x2="657.95" y2="452.80" stroke="#404040" stroke-width="1.0"/>
<text x="388.90" y="524.10" font-family="Liberation Sans" font-size="13" font-weight="bold" fill="#000" text-anchor="middle" >d</text>
<text x="406.60" y="495.20" font-family="Liberation Sans" font-size="13" font-weight="bold" fill="#000" text-anchor="middle" >c</text>
<text x="449.00" y="527.00" font-family="Liberation Sans" font-size="13" font-weight="bold" fill="#000" text-anchor="middle" >d</text>
<text x="468.60" y="482.40" font-family="Liberation Sans" font-size="13" font-weight="bold" fill="#000" text-anchor="middle" >b</text>
<text x="510.20" y="527.40" font-family="Liberation Sans" font-size="13" font-weight="bold" fill="#000" text-anchor="middle" >d</text>
<text x="529.10" y="437.10" font-family="Liberation Sans" font-size="13" font-weight="bold" fill="#000" text-anchor="middle" >a</text>
<text x="573.20" y="526.00" font-family="Liberation Sans" font-size="13" font-weight="bold" fill="#000" text-anchor="middle" >d</text>
<text x="593.40" y="433.00" font-family="Liberation Sans" font-size="13" font-weight="bold" fill="#000" text-anchor="middle" >a</text>
<text x="638.30" y="523.00" font-family="Liberation Sans" font-size="13" font-weight="bold" fill="#000" text-anchor="middle" >d</text>
<text x="653.90" y="433.00" font-family="Liberation Sans" font-size="13" font-weight="bold" fill="#000" text-anchor="middle" >a</text>
<text x="504.90" y="409.60" font-family="Liberation Sans" font-size="13.8" font-weight="bold" fill="#111" text-anchor="start" textLength="59.80" lengthAdjust="spacingAndGlyphs" >AmSOD2</text>
<rect x="368.10" y="431.20" width="9.70" height="9.40" fill="#000"/>
<rect x="368.10" y="447.60" width="9.70" height="9.50" fill="#a6a6a6"/>
<text x="382.50" y="439.90" font-family="Liberation Sans" font-size="11.4" font-weight="normal" fill="#2e2e2e" text-anchor="start" textLength="93.50" lengthAdjust="spacing" >Untreated Plants</text>
<text x="382.50" y="456.90" font-family="Liberation Sans" font-size="11.4" font-weight="normal" fill="#2e2e2e" text-anchor="start" textLength="79.30" lengthAdjust="spacing" >Treated Plants</text>
<text x="396.80" y="610.90" font-family="Liberation Sans" font-size="13.2" font-weight="bold" fill="#222" text-anchor="middle" >6</text>
<text x="450.70" y="610.90" font-family="Liberation Sans" font-size="13.2" font-weight="bold" fill="#222" text-anchor="middle" >12</text>
<text x="508.10" y="610.90" font-family="Liberation Sans" font-size="13.2" font-weight="bold" fill="#222" text-anchor="middle" >24</text>
<text x="577.20" y="610.90" font-family="Liberation Sans" font-size="13.2" font-weight="bold" fill="#222" text-anchor="middle" >48</text>
<text x="635.00" y="610.50" font-family="Liberation Sans" font-size="12.8" font-weight="bold" fill="#222" text-anchor="start" textLength="38.00" lengthAdjust="spacingAndGlyphs" >72 (h)</text>
<text x="487.10" y="635.70" font-family="Liberation Sans" font-size="16.3" font-weight="bold" fill="#111" text-anchor="start" textLength="63.70" lengthAdjust="spacingAndGlyphs" >Time (h)</text>
</svg>
</body></html>
